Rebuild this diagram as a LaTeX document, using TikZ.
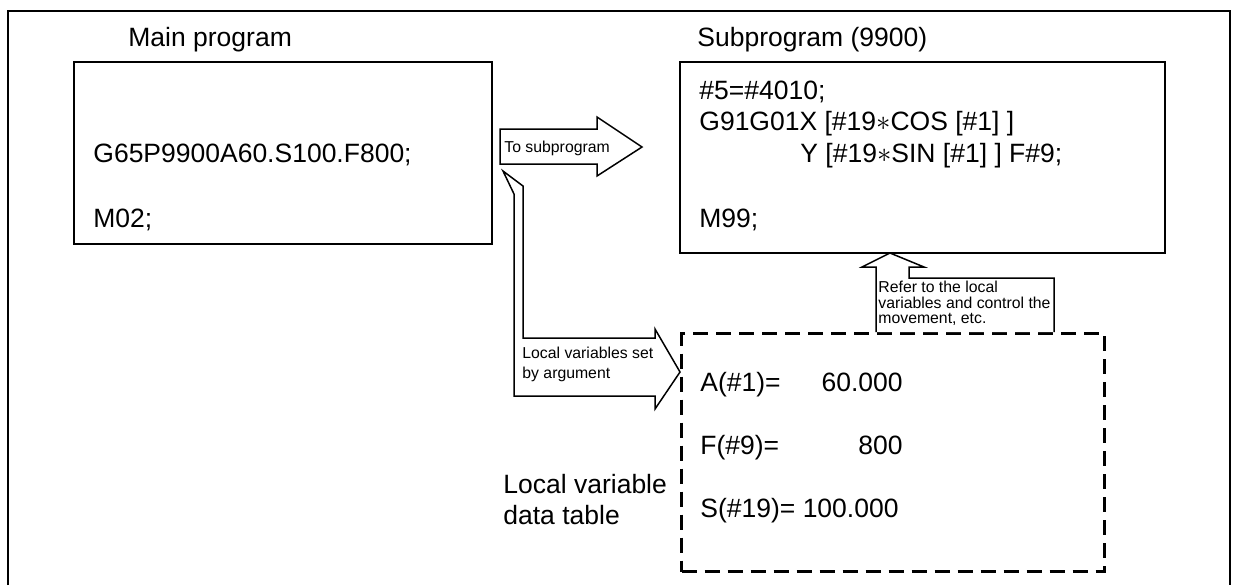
\documentclass[tikz,border=0pt]{standalone}
\usepackage{fontspec}
\setmainfont{Liberation Sans}
\usetikzlibrary{positioning}

\begin{document}
\begin{tikzpicture}[x=0.5pt,y=-0.5pt,
    big/.style={font=\fontsize{13.25}{15.75}\selectfont, inner sep=0pt, anchor=base west},
    small/.style={font=\fontsize{7.9}{8}\selectfont, inner sep=0pt, anchor=base west},
    prog/.style={draw, line width=1pt, anchor=north west, inner sep=0pt},
    blockarrow/.style={line width=0.75pt, line join=miter, fill=white}]
  \useasboundingbox (0,0) rectangle (1240,585);
  % outer frame, open at the bottom
  \draw[line width=1pt] (8,585) -- (8,11) -- (1230,11) -- (1230,585);

  % main program
  \node[prog, minimum width=209pt, minimum height=91pt] (main) at (73,61) {};
  \node[big] (maintitle) at (128,46.5) {Main program};
  \node[big] (g65) at (93,162.5) {G65P9900A60.S100.F800;};
  \node[big] (m02) at (93,227.5) {M02;};

  % subprogram
  \node[prog, minimum width=242.5pt, minimum height=95.5pt] (sub) at (679,61) {};
  \node[big] (subtitle) at (697,46.5) {Subprogram (9900)};
  \node[big] (line1) at (699,99.5) {\#5=\#4010;};
  \node[big] (line2) at (699,130.5) {G91G01X [\#19{$\ast$}COS [\#1] ]};
  \node[big] (line3) at (800,162.5) {Y [\#19{$\ast$}SIN [\#1] ] F\#9;};
  \node[big] (m99) at (699,227.5) {M99;};

  % local variable data table
  \node[prog, dash pattern=on 7.5pt off 4pt, line width=1.5pt,
        minimum width=211.5pt, minimum height=119pt] (table) at (680,332) {};
  \node[big] (avar) at (700,391.5) {A(\#1)=};
  \node[big, anchor=base east] (aval) at (903,391.5) {60.000};
  \node[big] (fvar) at (700,454.5) {F(\#9)=};
  \node[big, anchor=base east] (fval) at (903,454.5) {800};
  \node[big] (svar) at (700,517.5) {S(\#19)= 100.000};
  \node[big] (tabname) at (503,493.5) {Local variable};
  \node[big] (tabname2) at (503,524.5) {data table};

  % arrow: to subprogram
  \draw[blockarrow] (500,129) -- (597,129) -- (597,117) -- (642,147)
    -- (597,176) -- (597,164) -- (500,164) -- cycle;
  \node[small] (tosub) at (504,152) {To subprogram};

  % bent arrow: arguments into the table
  \draw[blockarrow] (503,171) -- (523,186) -- (523,338) -- (655,338) -- (655,329)
    -- (680,372) -- (655,409) -- (655,396) -- (514,396) -- (514,194) -- cycle;
  \node[small] (setarg) at (522,358.5) {Local variables set};
  \node[small] (setarg2) at (522,378.5) {by argument};

  % arrow up: subprogram reads the table
  \draw[blockarrow] (876,332) -- (876,267) -- (862,267) -- (890,253) -- (924,267)
    -- (909,267) -- (909,278) -- (1054,278) -- (1054,332);
  \node[small] (refer) at (878,292) {Refer to the local};
  \node[small] (refer2) at (878,308) {variables and control the};
  \node[small] (refer3) at (878,323.5) {movement, etc.};
\end{tikzpicture}
\end{document}
